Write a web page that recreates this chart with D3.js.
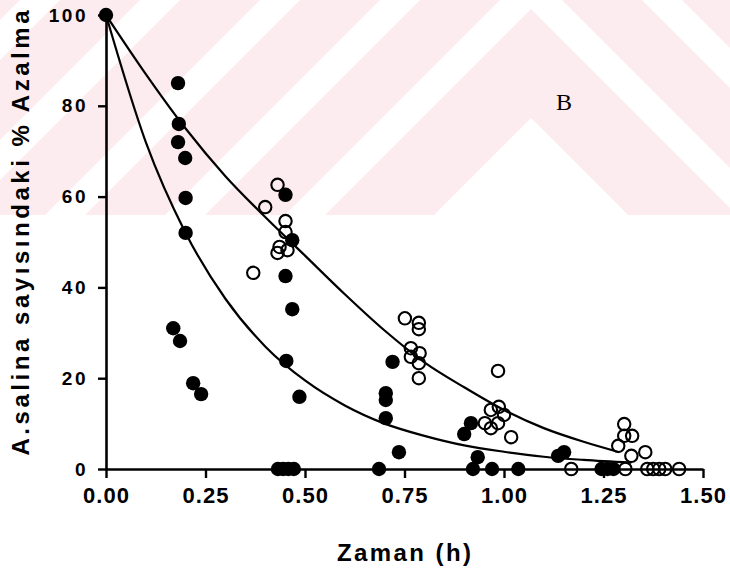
<!DOCTYPE html>
<html>
<head>
<meta charset="utf-8">
<script src="https://cdn.jsdelivr.net/npm/d3@7"></script>
<style>
  html, body { margin: 0; padding: 0; background: #ffffff; }
  svg { display: block; }
</style>
</head>
<body>
<svg id="chart" width="730" height="571"></svg>
<script>
// Filled circles: time (h) and % decrease
const filledTime = [0, 0.181, 0.183, 0.181, 0.199, 0.200, 0.200, 0.169, 0.186, 0.219, 0.239,
  0.451, 0.468, 0.451, 0.468, 0.453, 0.486, 0.432, 0.445, 0.458, 0.472,
  0.720, 0.703, 0.703, 0.703, 0.736, 0.686,
  0.917, 0.900, 0.934, 0.922, 0.970, 1.036,
  1.136, 1.151, 1.245, 1.260, 1.275];
const filledDecrease = [100, 85, 76, 72, 68.5, 59.7, 52, 31, 28.2, 18.9, 16.5,
  60.4, 50.4, 42.5, 35.2, 23.8, 15.9, 0, 0, 0, 0,
  23.6, 16.7, 15.2, 11.2, 3.7, 0,
  10.1, 7.7, 2.6, 0, 0, 0,
  2.9, 3.7, 0, 0, 0];

// Open circles: time (h) and % decrease
const openTime = [0.431, 0.400, 0.451, 0.451, 0.436, 0.456, 0.431, 0.370,
  0.751, 0.786, 0.786, 0.766, 0.788, 0.766, 0.786, 0.786,
  0.985, 0.987, 0.967, 1.000, 0.952, 0.985, 0.967, 1.018,
  1.302, 1.302, 1.322, 1.287, 1.320, 1.355,
  1.169, 1.305, 1.360, 1.375, 1.390, 1.405, 1.440];
const openDecrease = [62.6, 57.7, 54.6, 52.2, 48.9, 48.2, 47.6, 43.2,
  33.2, 32.2, 30.8, 26.6, 25.5, 24.7, 23.3, 20,
  21.6, 13.7, 13, 11.9, 10.1, 10.1, 9, 7,
  9.9, 7.3, 7.3, 5.1, 2.9, 3.7,
  0, 0, 0, 0, 0, 0, 0];

// Fitted decay curves
const fastFitTime  = [0, 0.1, 0.2, 0.3, 0.4, 0.5, 0.6, 0.7, 0.8, 0.9, 1.0, 1.1, 1.2, 1.32];
const fastFitValue = [100, 72, 52, 37.5, 27, 19.5, 14, 10, 7.3, 5.2, 3.8, 2.7, 2.0, 1.4];
const slowFitTime  = [0, 0.1, 0.2, 0.3, 0.4, 0.5, 0.6, 0.7, 0.8, 0.9, 1.0, 1.1, 1.2, 1.29];
const slowFitValue = [100, 87, 75, 64.5, 55.5, 47, 38.5, 30.5, 23.5, 18, 13, 9, 6, 3.7];

const xTicks = [0, 0.25, 0.5, 0.75, 1.0, 1.25, 1.5];
const yTicks = [0, 20, 40, 60, 80, 100];
const xTitle = "Zaman (h)";
const yTitle = "A.salina sayısındaki % Azalma";
const panelLabel = "B";

const svg = d3.select("#chart");
const W = 730, H = 571;
const sans = "'Liberation Sans', Arial, Helvetica, sans-serif";

// --- faint pink chevron background band ---
const wm = svg.append("g");
const clip = svg.append("defs").append("clipPath").attr("id", "wmclip");
clip.append("rect").attr("x", 0).attr("y", 0).attr("width", W).attr("height", 215);
wm.attr("clip-path", "url(#wmclip)");
wm.append("rect").attr("x", 0).attr("y", 0).attr("width", W).attr("height", 215).attr("fill", "#fcebef");
const apexX = 531, L = 900;
function chevron(h1, h2) {
  return [[apexX, h1], [apexX + L, h1 + L], [apexX + L, h2 + L], [apexX, h2],
          [apexX - L, h2 + L], [apexX - L, h1 + L]];
}
const whiteBands = [[118, 2000], [-31, 9], [-151, -111], [-271, -231], [-391, -351], [-511, -471]];
wm.selectAll("polygon").data(whiteBands).join("polygon")
  .attr("points", d => chevron(d[0], d[1]).map(p => p.join(",")).join(" "))
  .attr("fill", "#ffffff");

// --- scales ---
const x = d3.scaleLinear().domain([0, 1.5]).range([106, 703]);
const y = d3.scaleLinear().domain([0, 100]).range([469, 15]);

// --- axes ---
const xAxis = d3.axisBottom(x).tickValues(xTicks).tickFormat(d3.format(".2f"))
  .tickSize(9).tickSizeOuter(0).tickPadding(9);
const yAxis = d3.axisLeft(y).tickValues(yTicks).tickFormat(d3.format("d"))
  .tickSize(8).tickSizeOuter(0).tickPadding(10);

const gx = svg.append("g").attr("transform", `translate(0,${y(0)})`).call(xAxis);
const gy = svg.append("g").attr("transform", `translate(${x(0)},0)`).call(yAxis);

[gx, gy].forEach(g => {
  g.select(".domain").attr("stroke", "#000").attr("stroke-width", 2.6);
  g.selectAll(".tick line").attr("stroke", "#000").attr("stroke-width", 2.4);
  g.selectAll(".tick text").attr("fill", "#000")
    .style("font-family", sans)
    .style("font-weight", "bold");
});
gx.selectAll(".tick text").style("font-size", "22px").style("letter-spacing", "1px");
gy.selectAll(".tick text").style("font-size", "19px").style("letter-spacing", "2.5px");

// --- fitted curves ---
const line = d3.line().x(d => x(d[0])).y(d => y(d[1])).curve(d3.curveMonotoneX);
svg.append("path")
  .attr("d", line(fastFitTime.map((t, i) => [t, fastFitValue[i]])))
  .attr("fill", "none").attr("stroke", "#000").attr("stroke-width", 2.2);
svg.append("path")
  .attr("d", line(slowFitTime.map((t, i) => [t, slowFitValue[i]])))
  .attr("fill", "none").attr("stroke", "#000").attr("stroke-width", 2.2);

// --- points ---
svg.append("g").selectAll("circle")
  .data(filledTime.map((t, i) => [t, filledDecrease[i]]))
  .join("circle")
  .attr("cx", d => x(d[0])).attr("cy", d => y(d[1])).attr("r", 7.2)
  .attr("fill", "#000");
svg.append("g").selectAll("circle")
  .data(openTime.map((t, i) => [t, openDecrease[i]]))
  .join("circle")
  .attr("cx", d => x(d[0])).attr("cy", d => y(d[1])).attr("r", 6.2)
  .attr("fill", "none").attr("stroke", "#000").attr("stroke-width", 2.1);

// --- titles ---
svg.append("text")
  .attr("x", 404).attr("y", 561)
  .attr("text-anchor", "middle")
  .style("font-family", sans)
  .style("font-weight", "bold").style("font-size", "24px")
  .attr("textLength", 134).attr("lengthAdjust", "spacing")
  .text(xTitle);

svg.append("text")
  .attr("transform", "translate(29,233) rotate(-90)")
  .attr("text-anchor", "middle")
  .style("font-family", sans)
  .style("font-weight", "bold").style("font-size", "24px")
  .attr("textLength", 445).attr("lengthAdjust", "spacing")
  .text(yTitle);

svg.append("text")
  .attr("x", 564).attr("y", 110)
  .attr("text-anchor", "middle")
  .style("font-family", "'Liberation Serif', 'Times New Roman', serif")
  .style("font-size", "24px")
  .text(panelLabel);
</script>
</body>
</html>
